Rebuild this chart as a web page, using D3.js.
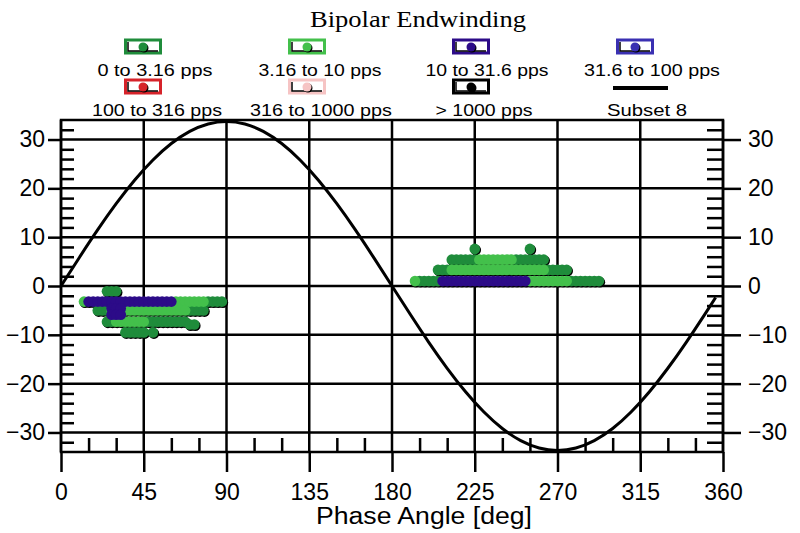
<!DOCTYPE html>
<html>
<head>
<meta charset="utf-8">
<script src="https://cdn.jsdelivr.net/npm/d3@7"></script>
<style>
  body { margin: 0; background: #fff; }
  svg { display: block; font-family: "Liberation Sans", Arial, sans-serif; }
</style>
</head>
<body>
<script>
// legend series
const seriesLabels = ["0 to 3.16 pps", "3.16 to 10 pps", "10 to 31.6 pps", "31.6 to 100 pps",
  "100 to 316 pps", "316 to 1000 pps", "> 1000 pps"];
const seriesColors = ["#1f8c3b", "#43c04b", "#2c0b88", "#3a30b2", "#d6232a", "#f6c4c4", "#000000"];
const lineLabel = "Subset 8";

// axis ticks
const xTicks = [0, 45, 90, 135, 180, 225, 270, 315, 360];
const xMinor = [15, 30, 60, 75, 105, 120, 150, 165, 195, 210, 240, 255, 285, 300, 330, 345];
const yTicks = [-30, -20, -10, 0, 10, 20, 30];
const yMinor = [-32, -28, -26, -24, -22, -18, -16, -14, -12, -8, -6, -4, -2,
  2, 4, 6, 8, 12, 14, 16, 18, 22, 24, 26, 28, 32];

// Subset 8 reference line, every 10 deg
const sinePhase = [0, 10, 20, 30, 40, 50, 60, 70, 80, 90, 100, 110, 120, 130, 140, 150, 160, 170,
  180, 190, 200, 210, 220, 230, 240, 250, 260, 270, 280, 290, 300, 310, 320, 330, 340, 350, 356];
const sineValue = [0, 5.85, 11.53, 16.85, 21.66, 25.82, 29.19, 31.67, 33.19, 33.7, 33.19, 31.67,
  29.19, 25.82, 21.66, 16.85, 11.53, 5.85, 0, -5.85, -11.53, -16.85, -21.66, -25.82, -29.19,
  -31.67, -33.19, -33.7, -33.19, -31.67, -29.19, -25.82, -21.66, -16.85, -11.53, -5.85, -2.35];

// pulse rows: [amplitude, first phase, one letter per 2.5 deg phase bin]
// D = 0 to 3.16 pps, L = 3.16 to 10 pps, P = 10 to 31.6 pps, . = empty bin
const binStep = 2.5;
const pulseRows = [
  [-1.1, 25, "DDD"],
  [-3.2, 12.5, "LPPPPPPPPPPPPPPPPPPPLLLLLLLDDDD"],
  [-5.0, 20, "DDDLLLLLLLLLLLLLLLLLDDDD"],
  [-4.6, 27.5, "PPP"],
  [-5.9, 27.5, "PPP"],
  [-7.3, 25, "DDLLLLLLLDDDDDDDDD"],
  [-7.9, 70, "DD"],
  [-9.5, 35, "DDDDD.D"],
  [7.6, 225, "D...........D"],
  [5.4, 212.5, "DDDDDDLLLLLLLLDDDDDDD"],
  [3.3, 205, "DDDLLLLLLLLLLLLLLLLLLLLLDDDDD"],
  [1.0, 192.5, "LDDDDDPPPPPPPPPPPPPPPPPPPLLLLLLLLLDDDDDDD"]
];
const letterSeries = { D: 0, L: 1, P: 2 };

const width = 800, height = 533;
const svg = d3.select("body").append("svg")
  .attr("width", width)
  .attr("height", height);

const x = d3.scaleLinear().domain([0, 360]).range([61, 723]);
const y = d3.scaleLinear().domain([-34, 34]).range([452, 120]);

// title
svg.append("text")
  .attr("x", 418).attr("y", 27)
  .attr("text-anchor", "middle")
  .attr("font-family", "'Liberation Serif', 'Times New Roman', serif")
  .attr("font-size", 24)
  .attr("textLength", 216).attr("lengthAdjust", "spacingAndGlyphs")
  .text("Bipolar Endwinding");

// legend
const iconCx = [143, 307, 471, 635];
const labelCx = [[155, 320, 487, 652], [157, 321, 484, 647]];
const labelW = [[115, 123, 123, 136], [130, 142, 97, 80]];
const legendItems = seriesLabels.map((label, i) => ({ label, color: seriesColors[i], i }));
legendItems.push({ label: lineLabel, color: "#000", i: 7, line: true });

const leg = svg.append("g")
  .selectAll("g")
  .data(legendItems)
  .join("g")
    .attr("transform", d => `translate(${iconCx[d.i % 4]},${d.i < 4 ? 40 : 80})`);

leg.filter(d => !d.line).each(function(d) {
  const g = d3.select(this);
  g.append("rect")
    .attr("x", -17.5).attr("y", 0).attr("width", 35).attr("height", 13)
    .attr("fill", "#fff").attr("stroke", d.color).attr("stroke-width", 3);
  g.append("path")
    .attr("d", "M-15,2V11H15")
    .attr("fill", "none").attr("stroke", "#000").attr("stroke-width", 1.5);
  g.append("circle").attr("cx", 1).attr("cy", 8).attr("r", 4.5).attr("fill", "#000");
  g.append("circle").attr("cx", 0).attr("cy", 7).attr("r", 4.5).attr("fill", d.color);
});
leg.filter(d => d.line).append("line")
  .attr("x1", -22).attr("x2", 33).attr("y1", 8).attr("y2", 8)
  .attr("stroke", "#000").attr("stroke-width", 4);

svg.append("g")
  .selectAll("text")
  .data(legendItems)
  .join("text")
    .attr("x", d => labelCx[d.i < 4 ? 0 : 1][d.i % 4])
    .attr("y", d => d.i < 4 ? 76 : 116)
    .attr("text-anchor", "middle")
    .attr("font-size", 17)
    .attr("textLength", d => labelW[d.i < 4 ? 0 : 1][d.i % 4])
    .attr("lengthAdjust", "spacingAndGlyphs")
    .text(d => d.label);

// grid
const grid = svg.append("g").attr("stroke", "#000").attr("stroke-width", 2.5);
grid.selectAll(".h").data(yTicks).join("line")
  .attr("x1", x(0)).attr("x2", x(360))
  .attr("y1", d => y(d)).attr("y2", d => y(d));
grid.selectAll(".v").data(xTicks).join("line")
  .attr("x1", d => x(d)).attr("x2", d => x(d))
  .attr("y1", y(34)).attr("y2", y(-34));
grid.append("rect")
  .attr("x", x(0)).attr("y", y(34))
  .attr("width", x(360) - x(0)).attr("height", y(-34) - y(34))
  .attr("fill", "none");

// axes
const styleAxis = g => {
  g.select(".domain").remove();
  g.selectAll(".tick line").attr("stroke-width", 2.5);
  g.selectAll("text").attr("font-size", 23).attr("fill", "#000")
    .attr("font-family", "'Liberation Sans', Arial, sans-serif");
};
svg.append("g")
  .attr("transform", `translate(${x(0)},0)`)
  .call(d3.axisLeft(y).tickValues(yTicks).tickSize(13).tickPadding(3))
  .call(styleAxis);
svg.append("g")
  .attr("transform", `translate(${x(360)},0)`)
  .call(d3.axisRight(y).tickValues(yTicks).tickSize(18).tickPadding(7))
  .call(styleAxis);
svg.append("g")
  .attr("transform", `translate(0,${y(-34)})`)
  .call(d3.axisBottom(x).tickValues(xTicks).tickSize(20).tickPadding(12))
  .call(styleAxis);

// minor ticks point into the plot
svg.append("g")
  .attr("transform", `translate(${x(0)},0)`)
  .call(d3.axisLeft(y).tickValues(yMinor).tickSize(-13).tickFormat(""))
  .call(styleAxis);
svg.append("g")
  .attr("transform", `translate(${x(360)},0)`)
  .call(d3.axisRight(y).tickValues(yMinor).tickSize(-16).tickFormat(""))
  .call(styleAxis);
svg.append("g")
  .attr("transform", `translate(0,${y(-34)})`)
  .call(d3.axisBottom(x).tickValues(xMinor).tickSize(-14).tickFormat(""))
  .call(styleAxis);

svg.append("text")
  .attr("x", 424).attr("y", 524)
  .attr("text-anchor", "middle")
  .attr("font-size", 23)
  .attr("textLength", 216).attr("lengthAdjust", "spacingAndGlyphs")
  .text("Phase Angle [deg]");

// reference sine
const sinePts = sinePhase.map((p, i) => [p, sineValue[i]]);
svg.append("path")
  .datum(sinePts)
  .attr("fill", "none")
  .attr("stroke", "#000")
  .attr("stroke-width", 3)
  .attr("d", d3.line().x(d => x(d[0])).y(d => y(d[1])).curve(d3.curveNatural));

// pulses
const pulses = [];
pulseRows.forEach(([amp, start, cells]) => {
  [...cells].forEach((c, k) => {
    if (c in letterSeries) pulses.push({ phase: start + k * binStep, amp, s: letterSeries[c] });
  });
});
pulses.sort((a, b) => a.s - b.s);

const dots = svg.append("g");
dots.selectAll(".shadow").data(pulses).join("circle")
  .attr("cx", d => x(d.phase) + 1).attr("cy", d => y(d.amp) + 1.2)
  .attr("r", 5.3).attr("fill", "#000");
dots.selectAll(".dot").data(pulses).join("circle")
  .attr("cx", d => x(d.phase)).attr("cy", d => y(d.amp))
  .attr("r", 5.3).attr("fill", d => seriesColors[d.s]);
</script>
</body>
</html>
